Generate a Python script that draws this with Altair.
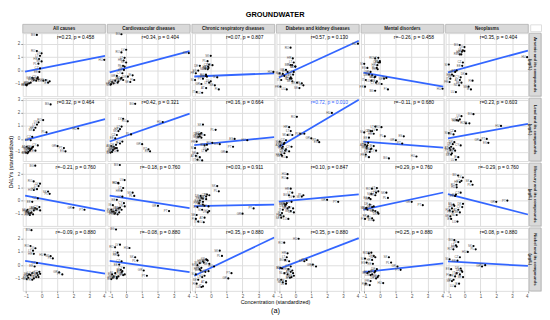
import altair as alt
import pandas as pd

# ---------------- data ----------------
countries = ["BG", "HU", "RO", "LV", "LT", "HR", "SK", "PL", "CZ", "EE", "GR", "PT", "ES",
             "IT", "FR", "DE", "AT", "BE", "NL", "DK", "SE", "FI", "IE", "LU", "SI", "CY"]

# standardized concentrations (one list per metal)
x_arsenic = [-0.31, 3.95, -0.31, -0.01, -0.11, -0.17, -0.01, -0.21, -0.11, -0.15, -0.60, -0.50, -0.80,
             -0.90, -0.95, -0.70, -0.30, -0.20, -0.35, 0.10, 0.25, 0.50, 0.40, -0.55, -1.00, -0.25]
x_lead = [0.56, 2.30, 0.09, -0.20, -0.30, -0.40, -0.50, 0.30, -0.60, -0.70, 1.00, 1.40, 1.50,
          -0.85, -0.90, -0.75, -0.95, -0.60, -0.80, -0.65, -0.85, -0.70, -0.40, -0.55, -1.00, -0.25]
x_mercury = [-0.41, -0.50, -0.51, -0.11, -0.20, -0.30, 0.40, 0.50, -0.25, -0.60, 2.00, 2.70, -0.70,
             -0.80, -0.75, -0.65, -0.40, -0.30, -0.50, -0.10, -0.90, -0.95, -0.85, -0.45, -0.55, -0.15]
x_nickel = [-0.65, 0.20, -0.71, -0.40, -0.55, -0.50, 0.56, 0.70, -0.30, -0.45, 1.10, 1.30, -0.85,
            -0.50, -0.60, -0.20, -0.30, -0.10, -0.70, -0.25, -0.80, -0.90, -0.35, -0.60, -0.95, -0.15]

# standardized DALYs (one list per cause)
y_all = [2.65, 0.80, 1.45, 1.28, 1.10, 0.86, 0.68, 0.51, 0.16, -0.10, -0.55, -0.70, -0.95,
         -1.00, -1.10, -0.90, -0.60, -0.65, -0.75, -0.75, -0.70, -0.80, -0.90, -0.60, -1.05, -0.50]
y_cardio = [2.70, 1.30, 1.35, 1.55, 0.95, 0.75, 0.60, 0.35, 0.30, 0.05, -0.40, -0.80, -0.95,
            -0.85, -1.00, -0.75, -0.55, -0.70, -0.60, -0.45, -0.85, -0.70, -0.35, -0.90, -1.05, -0.20]
y_resp = [-0.40, -0.10, -0.30, -0.80, -0.90, 0.30, 1.10, 0.70, 0.45, 0.20, -1.00, -0.60, 0.00,
          -1.60, -0.20, 0.35, -1.30, 0.10, 0.15, 0.40, -1.10, -1.40, -0.50, -1.65, -0.70, -0.45]
y_diab = [0.40, 2.00, 1.70, 0.30, 0.60, 0.90, 0.30, 0.40, -0.10, -0.30, 0.05, -0.10, -0.25,
          -0.70, -1.20, -0.40, -0.50, -0.80, -0.60, -0.90, -1.30, -1.10, -0.95, -1.40, -0.20, -0.60]
y_mental = [-1.50, -1.35, 0.90, 0.70, 0.95, 0.40, 0.60, 0.20, 0.60, 0.10, -0.10, -0.35, 0.20,
            -0.70, -1.20, -0.30, -0.45, -0.80, -0.50, -1.00, -0.60, -1.40, -0.55, -0.75, 0.50, -0.90]
y_neo = [1.90, 1.00, 1.20, 1.75, 1.50, 1.40, 1.45, 1.20, 0.60, 0.35, -0.10, 0.00, -0.30,
         -0.60, -0.85, -0.40, -0.70, -0.90, -1.10, -0.25, -1.20, -0.75, -1.40, -1.60, 0.45, -0.50]

cause_names = ["All causes", "Cardiovascular diseases", "Chronic respiratory diseases",
               "Diabetes and kidney diseases", "Mental disorders", "Neoplasms"]
metal_names = ["Arsenic and its compounds\n(µg/L)", "Lead and its compounds\n(µg/L)",
               "Mercury and its compounds\n(µg/L)", "Nickel and its compounds\n(µg/L)"]

metal_x = [x_arsenic, x_lead, x_mercury, x_nickel]
cause_y = [y_all, y_cardio, y_resp, y_diab, y_mental, y_neo]

r_labels = [
    ["r=0.23, p = 0.458", "r=0.34, p = 0.404", "r=0.07, p = 0.807", "r=0.57, p = 0.130", "r=\u22120.26, p = 0.458", "r=0.35, p = 0.404"],
    ["r=0.32, p = 0.464", "r=0.42, p = 0.321", "r=0.16, p = 0.664", "r=0.72, p = 0.010", "r=\u22120.11, p = 0.680", "r=0.23, p = 0.603"],
    ["r=\u22120.21, p = 0.760", "r=\u22120.18, p = 0.760", "r=0.03, p = 0.911", "r=0.10, p = 0.847", "r=0.29, p = 0.760", "r=\u22120.29, p = 0.760"],
    ["r=\u22120.09, p = 0.880", "r=\u22120.08, p = 0.880", "r=0.35, p = 0.880", "r=0.35, p = 0.880", "r=0.25, p = 0.880", "r=0.08, p = 0.880"],
]
significant = [[False] * 6, [False, False, False, True, False, False], [False] * 6, [False] * 6]

# fitted line: y at start (x=-1.05) and at end (x=4)
line_x = [-1.05, 4.0]
line_start = [[-0.07, -0.14, -0.44, -0.51, -0.16, -0.14],
              [-0.10, -0.20, -0.48, -0.62, -0.20, 0.04],
              [0.38, 0.38, -0.43, -0.08, -0.69, 0.49],
              [0.32, 0.32, -0.80, -0.28, -0.52, 0.28]]
line_end = [[1.10, 1.45, -0.20, 2.22, -1.19, 1.49],
            [1.52, 1.95, 0.14, 3.02, -0.67, 1.16],
            [-0.78, -0.57, -0.31, 0.47, 0.61, -1.06],
            [-0.63, -0.52, 2.10, 2.05, 0.14, -0.06]]

y_domains = [[-1.9, 2.78], [-1.7, 3.14], [-1.93, 2.85], [-1.94, 2.82]]
x_domain = [-1.2, 4.02]
x_ticks = [-1, 0, 1, 2, 3, 4]
y_ticks = [[-1, 0, 1, 2], [-1, 0, 1, 2, 3], [-1, 0, 1, 2], [-1, 0, 1, 2]]

# ---------------- style ----------------
W, H = 84, 64
SH = 7
RW = 11
BLUE = "#3366FF"
FONT = "Liberation Sans"


def panel(i, j):
    df = pd.DataFrame({"country": countries, "x": metal_x[i], "y": cause_y[j]})
    last_row = i == 3
    first_col = j == 0
    xax = alt.Axis(values=x_ticks, labels=last_row, ticks=last_row, title=None, grid=True,
                   domain=False, labelFontSize=4.5, tickSize=2, labelPadding=1,
                   labelColor="#4d4d4d", tickColor="#999999", format="d")
    yax = alt.Axis(values=y_ticks[i], labels=first_col, ticks=first_col, title=None, grid=True,
                   domain=False, labelFontSize=4.5, tickSize=2, labelPadding=1,
                   labelColor="#4d4d4d", tickColor="#999999", format="d")
    xs = alt.X("x:Q", scale=alt.Scale(domain=x_domain, nice=False, zero=False), axis=xax)
    ys = alt.Y("y:Q", scale=alt.Scale(domain=y_domains[i], nice=False, zero=False), axis=yax)

    base = alt.Chart(df)
    pts = base.mark_circle(size=5, color="black", opacity=1).encode(x=xs, y=ys)
    lbl = base.mark_text(fontSize=3, align="right", dx=-1.5, color="#555555").encode(
        x=xs, y=ys, text="country:N")

    ldf = pd.DataFrame({"x": line_x, "y": [line_start[i][j], line_end[i][j]]})
    line = alt.Chart(ldf).mark_line(color=BLUE, strokeWidth=1.8, clip=True).encode(x=xs, y=ys)

    rdf = pd.DataFrame({"t": [r_labels[i][j]]})
    rtxt = alt.Chart(rdf).mark_text(fontSize=5, baseline="top", align="center",
                                    color=BLUE if significant[i][j] else "black").encode(
        x=alt.value(W * 0.64), y=alt.value(2), text="t:N")

    layers = [line, pts, lbl, rtxt]
    if i == 1 and j == 0:
        t = alt.Chart(pd.DataFrame({"t": ["DALYs (standardized)"]})).mark_text(
            fontSize=5.5, angle=270, align="center", baseline="middle", color="black").encode(
            x=alt.value(-12), y=alt.value(H + 1), text="t:N")
        layers.append(t)
    if i == 3 and j == 2:
        t1 = alt.Chart(pd.DataFrame({"t": ["Concentration (standardized)"]})).mark_text(
            fontSize=5.5, align="center", baseline="middle", color="black").encode(
            x=alt.value(W + 1), y=alt.value(H + 11), text="t:N")
        t2 = alt.Chart(pd.DataFrame({"t": ["(a)"]})).mark_text(
            fontSize=7.5, align="center", baseline="middle", color="black").encode(
            x=alt.value(W + 1), y=alt.value(H + 21), text="t:N")
        layers += [t1, t2]
    return alt.layer(*layers).properties(width=W, height=H)


def col_strip(name):
    d = pd.DataFrame({"t": [name]})
    r = alt.Chart(d).mark_rect(fill="#d9d9d9", stroke="#a6a6a6", strokeWidth=0.6).encode(
        x=alt.value(0), x2=alt.value(W), y=alt.value(0), y2=alt.value(SH + 2))
    t = alt.Chart(d).mark_text(fontSize=4.6, fontWeight="bold", color="#1a1a1a").encode(
        x=alt.value(W / 2), y=alt.value(SH / 2 + 1), text="t:N")
    return alt.layer(r, t).properties(width=W, height=SH)


def row_strip(name):
    d = pd.DataFrame({"t": [name]})
    r = alt.Chart(d).mark_rect(fill="#d9d9d9", stroke="#a6a6a6", strokeWidth=0.6).encode(
        x=alt.value(-1), x2=alt.value(RW), y=alt.value(0), y2=alt.value(H))
    t = alt.Chart(d).mark_text(fontSize=4.3, fontWeight="bold", angle=90, lineBreak="\n",
                               lineHeight=5, color="#1a1a1a").encode(
        x=alt.value(RW / 2 - 0.5), y=alt.value(H / 2), text="t:N")
    return alt.layer(r, t).properties(width=RW, height=H)


def blank():
    return alt.Chart(pd.DataFrame({"a": [0]})).mark_point(opacity=0).encode(
        x=alt.value(0), y=alt.value(0)).properties(width=RW, height=SH)


cells = [col_strip(n) for n in cause_names] + [blank()]
for i in range(4):
    cells += [panel(i, j) for j in range(6)] + [row_strip(metal_names[i])]

chart = alt.concat(*cells, columns=7, spacing=2, bounds="flush", align="each").properties(
    title=alt.Title("GROUNDWATER", fontSize=7.5, fontWeight="bold", anchor="middle",
                    offset=3, font=FONT, color="black"),
    padding=0,
).configure_view(stroke="#b3b3b3", strokeWidth=0.6).configure_axis(
    gridColor="#ebebeb", gridWidth=0.6).configure(font=FONT)

chart.save("out.html", embed_options={"renderer": "svg", "actions": False})
